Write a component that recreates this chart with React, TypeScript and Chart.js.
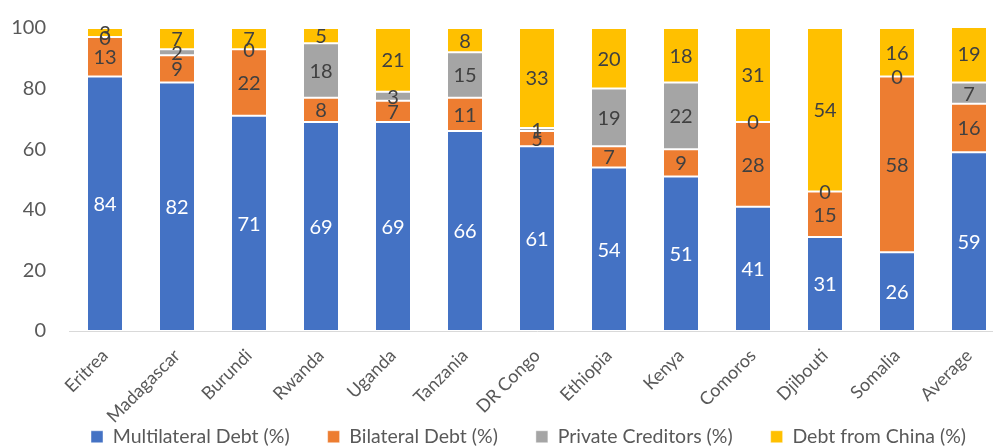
import React, { useEffect, useRef } from "react";
import { Chart, registerables } from "chart.js";

Chart.register(...registerables);

const categories = [
  "Eritrea", "Madagascar", "Burundi", "Rwanda", "Uganda", "Tanzania", "DR Congo",
  "Ethiopia", "Kenya", "Comoros", "Djibouti", "Somalia", "Average",
];
const multilateral = [84, 82, 71, 69, 69, 66, 61, 54, 51, 41, 31, 26, 59];
const bilateral = [13, 9, 22, 8, 7, 11, 5, 7, 9, 28, 15, 58, 16];
const privateCreditors = [0, 2, 0, 18, 3, 15, 1, 19, 22, 0, 0, 0, 7];
const chinaDebt = [3, 7, 7, 5, 21, 8, 33, 20, 18, 31, 54, 16, 19];
const yTicks = [0, 20, 40, 60, 80, 100];

const FONT = "Lato, 'Open Sans', sans-serif";

const dataLabels = {
  id: "segLabels",
  afterDatasetsDraw(chart: any) {
    const ctx = chart.ctx;
    ctx.save();
    ctx.font = `20px ${FONT}`;
    ctx.textAlign = "center";
    ctx.textBaseline = "middle";
    chart.data.datasets.forEach((ds: any, i: number) => {
      const meta = chart.getDatasetMeta(i);
      if (meta.hidden) return;
      meta.data.forEach((bar: any, j: number) => {
        const p = bar.getProps(["x", "y", "base"], true);
        ctx.fillStyle = i === 0 ? "#FFFFFF" : "#404040";
        ctx.fillText(String(ds.data[j]), p.x, (p.y + p.base) / 2 + 1);
      });
    });
    ctx.restore();
  },
};

const legendShift = {
  id: "legendShift",
  afterLayout(chart: any) {
    const lg = chart.legend;
    if (!lg) return;
    lg.left = 0;
    lg.right = 1057;
    lg.width = 1057;
    lg.top = 389;
    lg.bottom = 456;
  },
};

export default function App() {
  const ref = useRef<HTMLCanvasElement>(null);
  useEffect(() => {
    if (!ref.current) return;
    const seg = (color: string) => ({
      backgroundColor: color,
      borderColor: "rgba(255,255,255,0.45)",
      borderWidth: 1,
      borderSkipped: false,
    });
    const chart = new Chart(ref.current, {
      type: "bar",
      data: {
        labels: categories,
        datasets: [
          { label: "Multilateral Debt (%)", data: multilateral, ...seg("#4472C4") },
          { label: "Bilateral Debt (%)", data: bilateral, ...seg("#ED7D31") },
          { label: "Private Creditors (%)", data: privateCreditors, ...seg("#A5A5A5") },
          { label: "Debt from China (%)", data: chinaDebt, ...seg("#FFC000") },
        ],
      },
      options: {
        responsive: false,
        animation: false,
        devicePixelRatio: 1,
        datasets: { bar: { categoryPercentage: 0.5, barPercentage: 1 } },
        layout: { padding: { top: 28, left: 0, right: 15, bottom: 0 } },
        plugins: {
          tooltip: { enabled: false },
          legend: {
            position: "bottom",
            labels: {
              boxWidth: 12,
              boxHeight: 12,
              padding: 38,
              color: "#595959",
              font: { family: FONT, size: 19.5 },
            },
          },
        },
        scales: {
          x: {
            stacked: true,
            grid: { display: false, drawTicks: false },
            border: { display: true, color: "#D9D9D9", width: 1 },
            ticks: {
              color: "#595959",
              font: { family: FONT, size: 18 },
              minRotation: 45,
              maxRotation: 45,
              padding: 14,
              autoSkip: false,
            },
            afterFit: (s: any) => {
              s.height = 57.5;
              s._computeLabelArea = () => undefined;
            },
          },
          y: {
            stacked: true,
            min: 0,
            max: 100,
            afterBuildTicks: (s: any) => { s.ticks = yTicks.map((v) => ({ value: v })); },
            grid: { display: false, drawTicks: false },
            border: { display: false },
            ticks: {
              color: "#595959",
              font: { family: FONT, size: 20 },
              padding: 23,
            },
            afterFit: (s: any) => {
              s.width = 69;
              s.paddingTop = 0;
              s.paddingBottom = 0;
            },
          },
        },
      },
      plugins: [dataLabels, legendShift],
    });
    return () => chart.destroy();
  }, []);
  return (
    <div style={{ position: "fixed", left: 0, top: 0, width: 993, height: 448, overflow: "hidden", background: "#fff" }}>
      <canvas ref={ref} width={1020} height={456} style={{ display: "block" }} />
    </div>
  );
}
